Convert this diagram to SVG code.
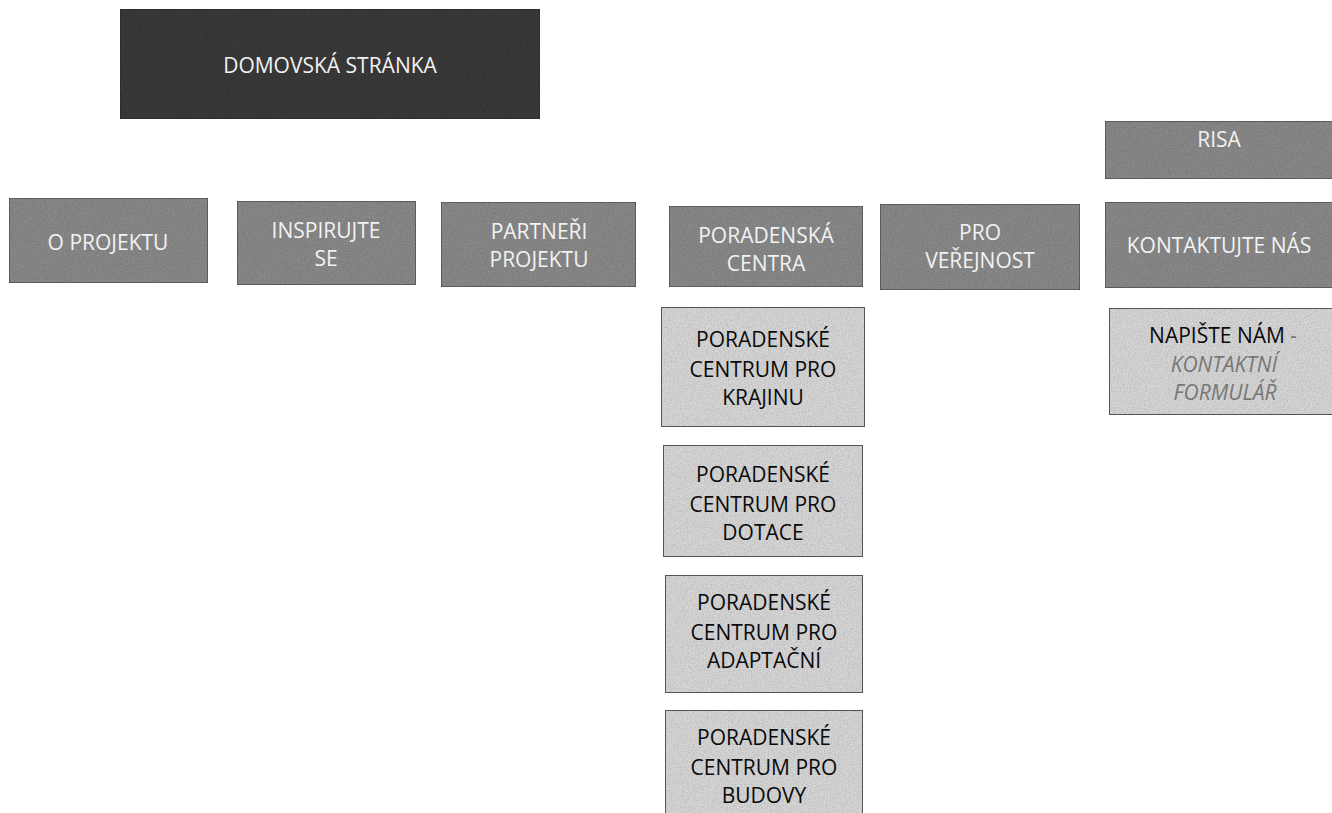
<svg xmlns="http://www.w3.org/2000/svg" width="1332" height="813" viewBox="0 0 1332 813">
  <defs>
    <filter id="grain" x="0" y="0" width="100%" height="100%">
      <feTurbulence type="fractalNoise" baseFrequency="0.7" numOctaves="2" seed="4" result="n"/>
      <feColorMatrix in="n" type="matrix" values="0 0 0 0 0  0 0 0 0 0  0 0 0 0 0  0 0 0 0.5 -0.15" result="a"/>
      <feComposite in="a" in2="SourceGraphic" operator="in" result="s"/>
      <feMerge><feMergeNode in="SourceGraphic"/><feMergeNode in="s"/></feMerge>
    </filter>
  </defs>
  <style>
    text { font-family: "Open Sans", "DejaVu Sans", sans-serif; font-size: 21px; text-anchor: middle; }
    .dark { fill: #3a3a3a; stroke: #2e2e2e; stroke-width: 1.5; }
    .mid { fill: #8a8a8a; stroke: #555555; stroke-width: 1.5; }
    .light { fill: #d8d8d8; stroke: #5a5a5a; stroke-width: 2; }
    .wt { fill: #f2f2f2; }
    .bt { fill: #0a0a0a; }
    .gt { fill: #777777; font-style: italic; }
  </style>
  <rect width="1332" height="813" fill="#ffffff"/>

  <g id="domovska-stranka">
    <rect class="dark" x="120" y="9" width="420" height="110" filter="url(#grain)"/>
    <text class="wt" x="330" y="73">DOMOVSKÁ STRÁNKA</text>
  </g>

  <g id="risa">
    <rect class="mid" x="1105" y="121" width="240" height="58" filter="url(#grain)"/>
    <text class="wt" x="1219" y="147">RISA</text>
  </g>

  <g id="o-projektu">
    <rect class="mid" x="9" y="198" width="199" height="85" filter="url(#grain)"/>
    <text class="wt" x="108" y="250">O PROJEKTU</text>
  </g>

  <g id="inspirujte-se">
    <rect class="mid" x="237" y="201" width="179" height="84" filter="url(#grain)"/>
    <text class="wt" x="326" y="238">INSPIRUJTE</text>
    <text class="wt" x="326" y="266">SE</text>
  </g>

  <g id="partneri-projektu">
    <rect class="mid" x="441" y="202" width="195" height="85" filter="url(#grain)"/>
    <text class="wt" x="539" y="239">PARTNEŘI</text>
    <text class="wt" x="539" y="267">PROJEKTU</text>
  </g>

  <g id="poradenska-centra">
    <rect class="mid" x="669" y="206" width="194" height="81" filter="url(#grain)"/>
    <text class="wt" x="766" y="243">PORADENSKÁ</text>
    <text class="wt" x="766" y="271">CENTRA</text>
  </g>

  <g id="pro-verejnost">
    <rect class="mid" x="880" y="204" width="200" height="86" filter="url(#grain)"/>
    <text class="wt" x="980" y="240">PRO</text>
    <text class="wt" x="980" y="268">VEŘEJNOST</text>
  </g>

  <g id="kontaktujte-nas">
    <rect class="mid" x="1105" y="202" width="240" height="86" filter="url(#grain)"/>
    <text class="wt" x="1219" y="253">KONTAKTUJTE NÁS</text>
  </g>

  <g id="pc-krajinu">
    <rect class="light" x="661" y="307" width="204" height="120" filter="url(#grain)"/>
    <text class="bt" x="763" y="347">PORADENSKÉ</text>
    <text class="bt" x="763" y="377">CENTRUM PRO</text>
    <text class="bt" x="763" y="405">KRAJINU</text>
  </g>

  <g id="pc-dotace">
    <rect class="light" x="663" y="445" width="200" height="112" filter="url(#grain)"/>
    <text class="bt" x="763" y="482">PORADENSKÉ</text>
    <text class="bt" x="763" y="512">CENTRUM PRO</text>
    <text class="bt" x="763" y="540">DOTACE</text>
  </g>

  <g id="pc-adaptacni">
    <rect class="light" x="665" y="575" width="198" height="118" filter="url(#grain)"/>
    <text class="bt" x="764" y="610">PORADENSKÉ</text>
    <text class="bt" x="764" y="640">CENTRUM PRO</text>
    <text class="bt" x="764" y="668">ADAPTAČNÍ</text>
  </g>

  <g id="pc-budovy">
    <rect class="light" x="665" y="710" width="198" height="120" filter="url(#grain)"/>
    <text class="bt" x="764" y="745">PORADENSKÉ</text>
    <text class="bt" x="764" y="775">CENTRUM PRO</text>
    <text class="bt" x="764" y="803">BUDOVY</text>
  </g>

  <g id="napiste-nam">
    <rect class="light" x="1109" y="308" width="236" height="107" filter="url(#grain)"/>
    <text x="1223" y="343"><tspan class="bt">NAPIŠTE NÁM </tspan><tspan class="gt" font-style="normal">-</tspan></text>
    <text class="gt" x="1224" y="372">KONTAKTNÍ</text>
    <text class="gt" x="1225" y="400">FORMULÁŘ</text>
  </g>

  <g id="connectors"></g>
</svg>
